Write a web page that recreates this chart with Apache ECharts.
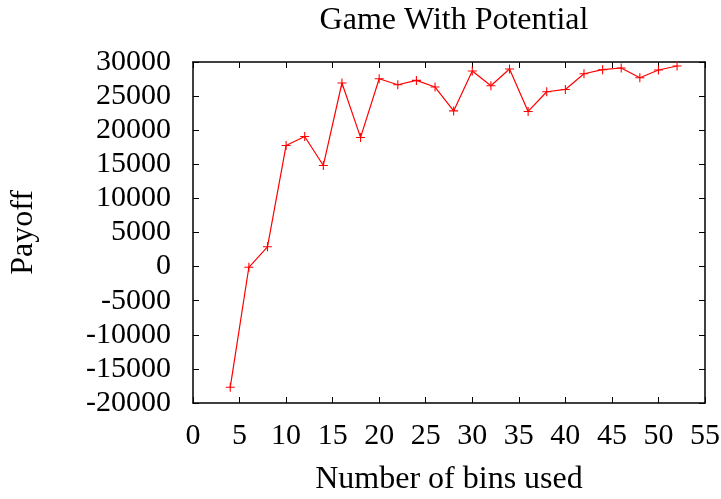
<!DOCTYPE html>
<html>
<head>
<meta charset="utf-8">
<script src="https://cdn.jsdelivr.net/npm/echarts@6/dist/echarts.min.js"></script>
<style>
  html, body { margin: 0; padding: 0; background: #fff; }
  #chart { width: 721px; height: 499px; }
</style>
</head>
<body>
<div id="chart"></div>
<script>
// Number of bins used vs. resulting payoff
const bins = [4, 6, 8, 10, 12, 14, 16, 18, 20, 22, 24, 26, 28, 30, 32, 34, 36, 38, 40, 42, 44, 46, 48, 50, 52];
const payoff = [-17700, -100, 2900, 17760, 19080, 14830, 26920, 18940, 27550, 26670, 27300, 26330, 22830,
                28680, 26520, 28970, 22750, 25640, 25980, 28280, 28870, 29120, 27700, 28830, 29410];

const xTicks = { min: 0, max: 55, step: 5 };
const yTicks = { min: -20000, max: 30000, step: 5000 };

const FONT = "'Liberation Serif', 'Times New Roman', serif";
const chart = echarts.init(document.getElementById('chart'), null, { renderer: 'canvas' });

const frameLine = { show: true, onZero: false, lineStyle: { color: '#000', width: 1.5 } };
const innerTicks = { show: true, inside: true, length: 6, lineStyle: { color: '#000', width: 1 } };
const plain = v => String(v);

chart.setOption({
  animation: false,
  backgroundColor: '#fff',
  title: {
    text: 'Game With Potential',
    left: 449,
    textAlign: 'center',
    top: 0,
    textStyle: { fontFamily: FONT, fontSize: 32, fontWeight: 'normal', color: '#000' }
  },
  grid: { left: 193, right: 16, top: 62, bottom: 96, containLabel: false, outerBoundsMode: 'none' },
  xAxis: [{
    type: 'value',
    min: xTicks.min, max: xTicks.max, interval: xTicks.step,
    name: 'Number of bins used',
    nameLocation: 'middle',
    nameGap: 61,
    nameTextStyle: { fontFamily: FONT, fontSize: 32, color: '#000' },
    axisLine: frameLine,
    axisTick: innerTicks,
    splitLine: { show: false },
    axisLabel: { fontFamily: FONT, fontSize: 30, color: '#000', margin: 18, formatter: plain }
  }, {
    type: 'value', position: 'top',
    min: xTicks.min, max: xTicks.max, interval: xTicks.step,
    axisLine: frameLine, axisTick: innerTicks,
    axisLabel: { show: false }, splitLine: { show: false }
  }],
  yAxis: [{
    type: 'value',
    min: yTicks.min, max: yTicks.max, interval: yTicks.step,
    name: 'Payoff',
    nameLocation: 'middle',
    nameGap: 153,
    nameRotate: 90,
    nameTextStyle: { fontFamily: FONT, fontSize: 32, color: '#000' },
    axisLine: frameLine,
    axisTick: innerTicks,
    splitLine: { show: false },
    axisLabel: { fontFamily: FONT, fontSize: 30, color: '#000', margin: 22, formatter: plain }
  }, {
    type: 'value', position: 'right',
    min: yTicks.min, max: yTicks.max, interval: yTicks.step,
    axisLine: frameLine, axisTick: innerTicks,
    axisLabel: { show: false }, splitLine: { show: false }
  }],
  series: [{
    type: 'line',
    data: bins.map((b, i) => [b, payoff[i]]),
    lineStyle: { color: '#ff0000', width: 1.2 },
    itemStyle: { color: '#ff0000' },
    symbol: 'path://M-0.12,-1H0.12V-0.12H1V0.12H0.12V1H-0.12V0.12H-1V-0.12H-0.12Z',
    symbolSize: 9,
    showSymbol: true
  }]
});
</script>
</body>
</html>
